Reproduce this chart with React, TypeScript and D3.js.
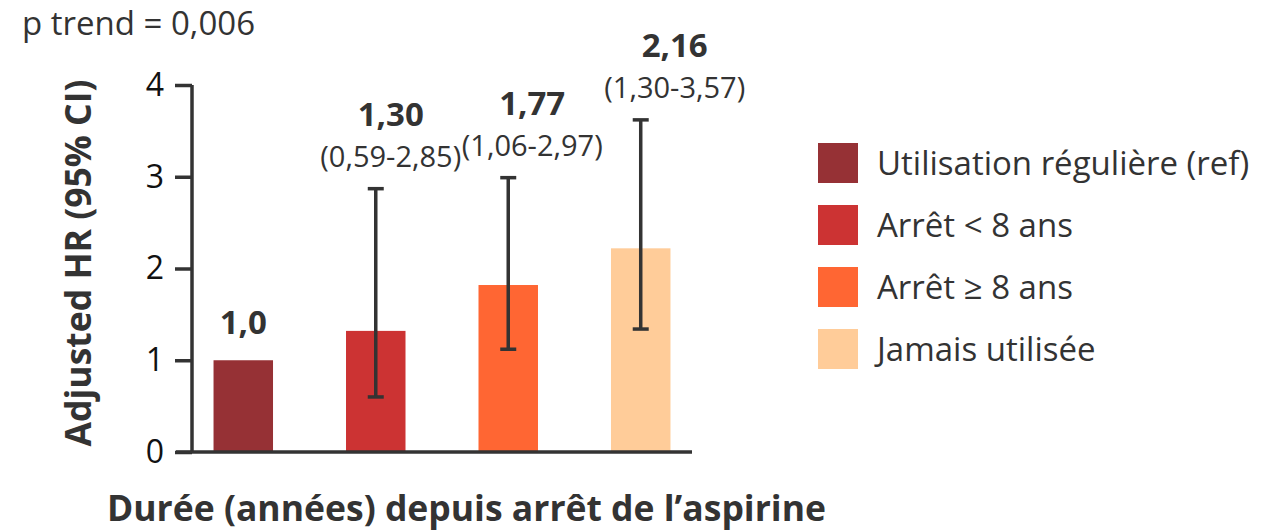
import { useEffect, useRef } from "react";
import * as d3 from "d3";

// chart values
const categories = ["Utilisation régulière (ref)", "Arrêt < 8 ans", "Arrêt ≥ 8 ans", "Jamais utilisée"];
const hrValues = [1.0, 1.32, 1.82, 2.22];
const ciLow = [null, 0.6, 1.12, 1.34];
const ciHigh = [null, 2.87, 2.99, 3.62];
const hrLabels = ["1,0", "1,30", "1,77", "2,16"];
const ciLabels = ["", "(0,59-2,85)", "(1,06-2,97)", "(1,30-3,57)"];
const yTicks = [0, 1, 2, 3, 4];

const colors = ["#963135", "#CC3333", "#FF6633", "#FFCC99"];
const labelNudge = [0, 15, 24, 34];

const FONT = "'Open Sans', sans-serif";
const INK = "#333333";

export default function App() {
  const svgRef = useRef<SVGSVGElement>(null);

  useEffect(() => {
    if (!svgRef.current) return;
    const svg = d3.select(svgRef.current);
    svg.selectAll("*").remove();

    const x = d3
      .scaleBand<string>()
      .domain(categories)
      .range([192, 692])
      .paddingInner(0.551)
      .paddingOuter(0.1625);

    const y = d3.scaleLinear().domain([0, 4]).range([452, 85]);

    // p trend
    svg
      .append("text")
      .attr("x", 22)
      .attr("y", 35)
      .style("font-family", FONT)
      .style("font-size", "33px")
      .style("fill", INK)
      .text("p trend = 0,006");

    // bars
    svg
      .append("g")
      .selectAll("rect")
      .data(categories)
      .join("rect")
      .attr("x", (d) => x(d)!)
      .attr("width", x.bandwidth())
      .attr("y", (_, i) => y(hrValues[i]))
      .attr("height", (_, i) => y(0) - y(hrValues[i]))
      .attr("fill", (_, i) => colors[i]);

    // error bars
    const err = svg.append("g").attr("stroke", INK).attr("stroke-width", 3.5);
    categories.forEach((c, i) => {
      const lo = ciLow[i];
      const hi = ciHigh[i];
      if (lo == null || hi == null) return;
      const cx = x(c)! + x.bandwidth() / 2;
      err.append("line").attr("x1", cx).attr("x2", cx).attr("y1", y(lo)).attr("y2", y(hi));
      err.append("line").attr("x1", cx - 8).attr("x2", cx + 8).attr("y1", y(lo)).attr("y2", y(lo));
      err.append("line").attr("x1", cx - 8).attr("x2", cx + 8).attr("y1", y(hi)).attr("y2", y(hi));
    });

    // value labels
    categories.forEach((c, i) => {
      const cx = x(c)! + x.bandwidth() / 2 + labelNudge[i];
      const hi = ciHigh[i];
      const top = hi == null ? y(hrValues[i]) : y(hi);
      if (hi == null) {
        svg
          .append("text")
          .attr("x", cx)
          .attr("y", top - 26)
          .attr("text-anchor", "middle")
          .style("font-family", FONT)
          .style("font-weight", "700")
          .style("font-size", "33px")
          .style("fill", INK)
          .text(hrLabels[i]);
        return;
      }
      svg
        .append("text")
        .attr("x", cx)
        .attr("y", top - 22)
        .attr("text-anchor", "middle")
        .style("font-family", FONT)
        .style("font-size", "29px")
        .style("fill", INK)
        .text(ciLabels[i]);
      svg
        .append("text")
        .attr("x", cx)
        .attr("y", top - 63)
        .attr("text-anchor", "middle")
        .style("font-family", FONT)
        .style("font-weight", "700")
        .style("font-size", "33px")
        .style("fill", INK)
        .text(hrLabels[i]);
    });

    // axes
    const yAxis = svg
      .append("g")
      .attr("transform", "translate(192,0)")
      .call(d3.axisLeft(y).tickValues(yTicks).tickSize(17).tickPadding(11).tickFormat(d3.format("d")));
    yAxis.select(".domain").attr("stroke", INK).attr("stroke-width", 3.5).attr("d", `M0,${y(4)}V${y(0)}`);
    yAxis.selectAll(".tick line").attr("stroke", INK).attr("stroke-width", 3.5);
    yAxis
      .selectAll(".tick text")
      .style("font-family", FONT)
      .style("font-size", "32px")
      .style("fill", "#111");

    svg
      .append("line")
      .attr("x1", 176)
      .attr("x2", 692)
      .attr("y1", y(0))
      .attr("y2", y(0))
      .attr("stroke", INK)
      .attr("stroke-width", 3.5);

    // axis titles
    svg
      .append("text")
      .attr("transform", `translate(91,${263}) rotate(-90)`)
      .attr("text-anchor", "middle")
      .style("font-family", FONT)
      .style("font-weight", "700")
      .style("font-size", "35.5px")
      .style("fill", INK)
      .text("Adjusted HR (95% CI)");

    svg
      .append("text")
      .attr("x", 107)
      .attr("y", 521)
      .style("font-family", FONT)
      .style("font-weight", "700")
      .style("font-size", "35.5px")
      .style("fill", INK)
      .text("Durée (années) depuis arrêt de l’aspirine");

    // legend
    const legend = svg.append("g").attr("transform", "translate(818,143)");
    categories.forEach((c, i) => {
      const g = legend.append("g").attr("transform", `translate(0,${i * 62})`);
      g.append("rect").attr("width", 40).attr("height", 40).attr("fill", colors[i]);
      g.append("text")
        .attr("x", 59)
        .attr("y", 32)
        .style("font-family", FONT)
        .style("font-size", "33px")
        .style("fill", INK)
        .text(c);
    });
  }, []);

  return (
    <svg
      ref={svgRef}
      width={1273}
      height={531}
      style={{ position: "absolute", left: 0, top: 0, background: "#fff" }}
    />
  );
}
